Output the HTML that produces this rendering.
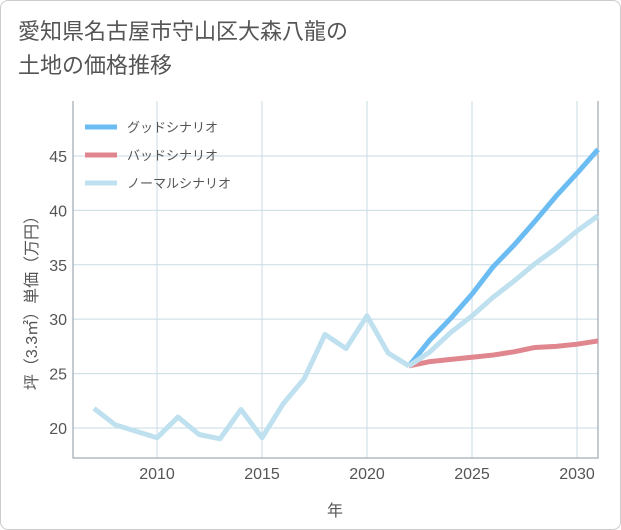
<!DOCTYPE html>
<html><head><meta charset="utf-8"><style>
body{margin:0;background:#fff;}
#wrap{width:621px;height:530px;position:relative;box-sizing:border-box;border:1px solid #ccc;border-radius:8px;background:#fff;overflow:hidden}
#title{position:absolute;left:17px;top:14px;font:22px "Liberation Sans","Noto Sans CJK JP",sans-serif;color:#555;line-height:34px}
</style></head><body>
<div id="wrap">
<div id="title">愛知県名古屋市守山区大森八龍の<br>土地の価格推移</div>
<svg id="chart" width="621" height="530" style="position:absolute;left:0;top:0"></svg>
</div>
<script>
const historyYears=[2007,2008,2009,2010,2011,2012,2013,2014,2015,2016,2017,2018,2019,2020,2021,2022];
const historyValues=[21.8,20.3,19.7,19.1,21.0,19.4,19.0,21.7,19.1,22.2,24.5,28.6,27.3,30.3,26.9,25.7];
const futureYears=[2022,2023,2024,2025,2026,2027,2028,2029,2030,2031];
const goodValues=[25.7,28.1,30.1,32.3,34.8,36.8,39.0,41.3,43.4,45.6];
const badValues=[25.7,26.1,26.3,26.5,26.7,27.0,27.4,27.5,27.7,28.0];
const normalValues=[25.7,27.0,28.8,30.3,32.0,33.5,35.1,36.5,38.1,39.5];
const xTicks=[2010,2015,2020,2025,2030];
const yTicks=[20,25,30,35,40,45];
const legendLabels=["グッドシナリオ","バッドシナリオ","ノーマルシナリオ"];
const legendColors=["#6bbcf2","#e0868e","#bfe1ef"];

const svg=document.getElementById('chart');const NS='http://www.w3.org/2000/svg';
const L=72,R=597,T=100,B=457,x0=2006,x1=2031,y0=17.24,y1=50.05;
const X=v=>L+(v-x0)/(x1-x0)*(R-L);
const Y=v=>B-(v-y0)/(y1-y0)*(B-T);
function mk(t,a){const e=document.createElementNS(NS,t);for(const k in a)e.setAttribute(k,a[k]);svg.appendChild(e);return e;}
const font='"Liberation Sans","Noto Sans CJK JP",sans-serif';
for(const t of xTicks){const g=mk('line',{x1:X(t),x2:X(t),y1:T,y2:B,stroke:'#c8dbe6','stroke-width':1});


const tx=mk('text',{x:X(t),y:478,'text-anchor':'middle','font-size':16,fill:'#555','font-family':font});tx.textContent=t;

}
for(const t of yTicks){const g=mk('line',{x1:L,x2:R,y1:Y(t),y2:Y(t),stroke:'#c8dbe6','stroke-width':1});


const tx=mk('text',{x:66,y:Y(t)+6,'text-anchor':'end','font-size':16,fill:'#555','font-family':font});tx.textContent=t;

}
const ax=mk('path',{d:`M${L},${T}V${B}H${R}V${T}`,fill:'none',stroke:'#8a9aa6','stroke-width':1});


function line(xs,vs,c,name){const p=mk('polyline',{points:xs.map((x,i)=>X(x)+','+Y(vs[i])).join(' '),fill:'none',stroke:c,'stroke-width':5,'stroke-linejoin':'round'});

}
line(futureYears,badValues,legendColors[1],'bad-scenario-line');
line(futureYears,goodValues,legendColors[0],'good-scenario-line');
line(futureYears,normalValues,legendColors[2],'normal-scenario-line');
line(historyYears,historyValues,legendColors[2],'history-line');
legendLabels.forEach((s,i)=>{const y=126+i*28;
const l=mk('line',{x1:84,x2:116,y1:y,y2:y,stroke:legendColors[i],'stroke-width':5});


const t=mk('text',{x:126,y:y+5,'font-size':13,fill:'#555','font-family':font});t.textContent=s;

});
const xt=mk('text',{x:334,y:515,'text-anchor':'middle','font-size':16,fill:'#555','font-family':font});xt.textContent='年';


const yt=mk('text',{x:0,y:0,'text-anchor':'middle','font-size':16,fill:'#555','font-family':font,transform:'translate(36,298) rotate(-90)'});yt.textContent='坪（3.3㎡）単価（万円）';


</script>
</body></html>
